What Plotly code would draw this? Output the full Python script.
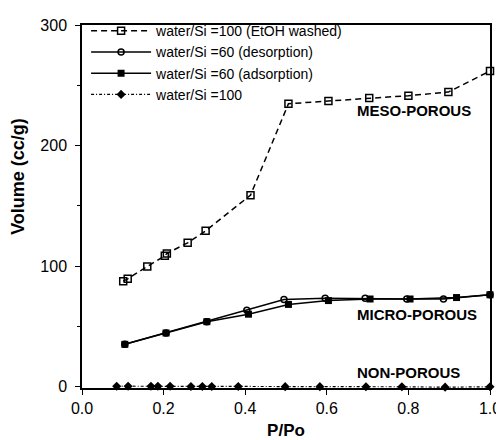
import plotly.graph_objects as go

# EtOH washed, water/Si = 100 (open squares, dashed)
etoh_x = [0.101, 0.112, 0.160, 0.203, 0.208, 0.259, 0.303, 0.413, 0.506, 0.604, 0.704, 0.800, 0.898, 1.000]
etoh_y = [87.6, 89.5, 99.8, 108.6, 110.5, 119.4, 129.3, 158.9, 234.7, 236.9, 239.5, 241.4, 244.4, 261.9]

# water/Si = 60 desorption (open circles, solid)
des_x = [1.000, 0.886, 0.796, 0.694, 0.596, 0.495, 0.404, 0.306, 0.206, 0.105]
des_y = [76.3, 72.8, 72.8, 73.4, 73.4, 72.3, 63.5, 54.0, 44.6, 35.2]

# water/Si = 60 adsorption (filled squares, solid)
ads_x = [0.105, 0.206, 0.306, 0.408, 0.506, 0.604, 0.706, 0.804, 0.918, 1.000]
ads_y = [35.2, 44.6, 54.0, 60.2, 68.3, 71.5, 72.8, 72.8, 74.0, 76.3]

# water/Si = 100 (filled diamonds, dash-dot)
non_x = [0.085, 0.113, 0.169, 0.186, 0.216, 0.267, 0.295, 0.318, 0.383, 0.498, 0.583, 0.696, 0.784, 0.890, 1.000]
non_y = [0.5, 0.5, 0.4, 0.4, 0.4, 0.3, 0.3, 0.3, 0.2, 0.1, 0.1, 0.0, 0.0, -0.3, 0.0]

x_ticks = [0.0, 0.2, 0.4, 0.6, 0.8, 1.0]
x_ticklabels = ["0.0", "0.2", "0.4", "0.6", "0.8", "1.0"]
y_ticks = [0, 100, 200, 300]

labels = ["MESO-POROUS", "MICRO-POROUS", "NON-POROUS"]
label_x = [0.67, 0.67, 0.67]
label_y = [229, 60, 12]

FONT = "Liberation Sans, Arial, Helvetica, sans-serif"

fig = go.Figure()
fig.add_trace(go.Scatter(
    x=etoh_x, y=etoh_y, mode="lines+markers",
    name="water/Si =100 (EtOH washed)",
    line=dict(color="black", width=1.5, dash="6px,4px"),
    marker=dict(symbol="square-open", size=7, color="black", line=dict(width=1.5)),
    cliponaxis=False,
))
fig.add_trace(go.Scatter(
    x=des_x, y=des_y, mode="lines+markers",
    name="water/Si =60 (desorption)",
    line=dict(color="black", width=1.5),
    marker=dict(symbol="circle-open", size=6, color="black", line=dict(width=1.5)),
    cliponaxis=False,
))
fig.add_trace(go.Scatter(
    x=ads_x, y=ads_y, mode="lines+markers",
    name="water/Si =60 (adsorption)",
    line=dict(color="black", width=1.5),
    marker=dict(symbol="square", size=7, color="black"),
    cliponaxis=False,
))
fig.add_trace(go.Scatter(
    x=non_x, y=non_y, mode="lines+markers",
    name="water/Si =100",
    line=dict(color="black", width=1.2, dash="3px,2px,1px,2px"),
    marker=dict(symbol="diamond", size=7, color="black"),
    cliponaxis=False,
))

for t, lx, ly in zip(labels, label_x, label_y):
    fig.add_annotation(x=lx, y=ly, xref="x", yref="y", text="<b>" + t + "</b>",
                       showarrow=False, xanchor="left", yanchor="middle",
                       font=dict(size=15, color="black", family=FONT))

# page body has an 8px default margin, so the figure is sized to fit inside the window
fig.update_layout(
    width=496, height=432,
    margin=dict(l=74, r=14, t=7, b=52),
    paper_bgcolor="white", plot_bgcolor="white",
    font=dict(family=FONT, color="black", size=16),
    showlegend=True,
    legend=dict(x=0.01, y=1.027, xanchor="left", yanchor="top",
                bgcolor="rgba(0,0,0,0)", font=dict(size=14, family=FONT),
                itemwidth=60, tracegroupgap=0),
    xaxis=dict(
        range=[0, 1], tickvals=x_ticks, ticktext=x_ticklabels,
        ticks="outside", ticklen=5, tickwidth=1.2, tickcolor="black",
        showline=True, linecolor="black", linewidth=1.5, mirror=True,
        showgrid=False, zeroline=False, automargin=False,
        title=dict(text="<b>P/Po</b>", font=dict(size=17), standoff=10),
        tickfont=dict(size=16),
    ),
    yaxis=dict(
        range=[-1, 300], tickvals=y_ticks,
        ticks="outside", ticklen=5, tickwidth=1.2, tickcolor="black",
        ticklabelstandoff=5,
        minor=dict(dtick=50, tick0=0, ticks="outside", ticklen=3, tickcolor="black"),
        showline=True, linecolor="black", linewidth=1.5, mirror=True,
        showgrid=False, zeroline=False, automargin=False,
        title=dict(text="<b>" + "\u00a0" * 12 + "Volume (cc/g)</b>", font=dict(size=18), standoff=11),
        tickfont=dict(size=16),
    ),
)

fig.write_html("out.html", config={"responsive": False, "displayModeBar": False})
